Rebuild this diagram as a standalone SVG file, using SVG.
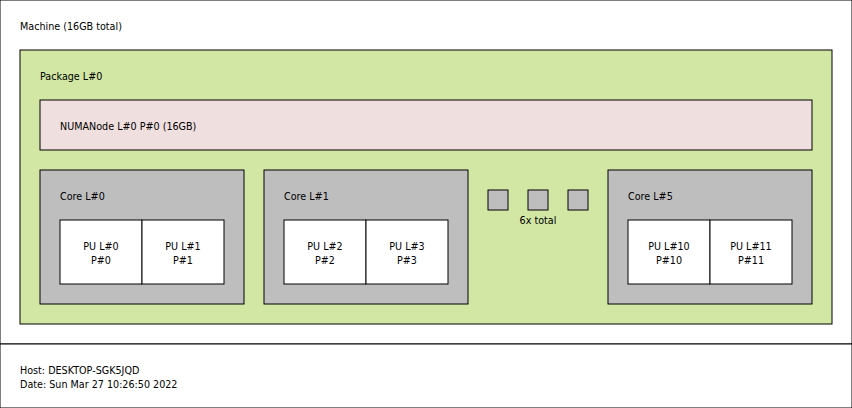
<svg xmlns="http://www.w3.org/2000/svg" width="852" height="408" viewBox="0 0 852 408">
<style>
rect{stroke:#000;stroke-width:1}
text{font-family:"DejaVu Sans",sans-serif;font-size:9.6px;fill:#000}
.c{text-anchor:middle}
.m{fill:#fff}.p{fill:#d2e7a4}.n{fill:#efdfde}.k{fill:#bebebe}.u{fill:#fff}
</style>
<g id="machine"><rect class="m" x="0" y="0" width="852" height="344"/><text x="20" y="29.5">Machine (16GB total)</text></g>
<g id="package"><rect class="p" x="20" y="50" width="812" height="274"/><text x="40" y="79.5">Package L#0</text></g>
<g id="numa"><rect class="n" x="40" y="100" width="772" height="50"/><text x="60" y="129.5">NUMANode L#0 P#0 (16GB)</text></g>
<g id="core0"><rect class="k" x="40" y="170" width="204" height="134"/><text x="60" y="199.5">Core L#0</text></g>
<g id="pu0"><rect class="u" x="60" y="220" width="82" height="64"/><text class="c" x="101" y="249.5">PU L#0</text><text class="c" x="101" y="263.5">P#0</text></g>
<g id="pu1"><rect class="u" x="142" y="220" width="82" height="64"/><text class="c" x="183" y="249.5">PU L#1</text><text class="c" x="183" y="263.5">P#1</text></g>
<g id="core1"><rect class="k" x="264" y="170" width="204" height="134"/><text x="284" y="199.5">Core L#1</text></g>
<g id="pu2"><rect class="u" x="284" y="220" width="82" height="64"/><text class="c" x="325" y="249.5">PU L#2</text><text class="c" x="325" y="263.5">P#2</text></g>
<g id="pu3"><rect class="u" x="366" y="220" width="82" height="64"/><text class="c" x="407" y="249.5">PU L#3</text><text class="c" x="407" y="263.5">P#3</text></g>
<g id="more"><rect class="k" x="488" y="190" width="20" height="20"/><rect class="k" x="528" y="190" width="20" height="20"/><rect class="k" x="568" y="190" width="20" height="20"/><text class="c" x="538" y="223.5">6x total</text></g>
<g id="core5"><rect class="k" x="608" y="170" width="204" height="134"/><text x="628" y="199.5">Core L#5</text></g>
<g id="pu10"><rect class="u" x="628" y="220" width="82" height="64"/><text class="c" x="669" y="249.5">PU L#10</text><text class="c" x="669" y="263.5">P#10</text></g>
<g id="pu11"><rect class="u" x="710" y="220" width="82" height="64"/><text class="c" x="751" y="249.5">PU L#11</text><text class="c" x="751" y="263.5">P#11</text></g>
<g id="connectors"></g>
<g id="legend"><rect class="m" x="0" y="344" width="852" height="64"/><text x="20" y="373.5">Host: DESKTOP-SGK5JQD</text><text x="20" y="387.5">Date: Sun Mar 27 10:26:50 2022</text></g>
</svg>
